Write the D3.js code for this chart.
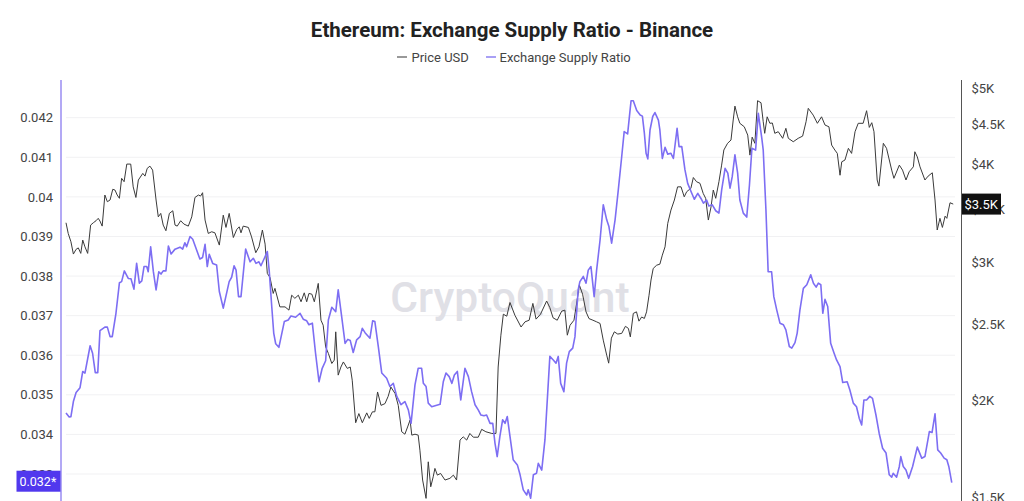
<!DOCTYPE html>
<html><head><meta charset="utf-8">
<script src="https://cdn.jsdelivr.net/npm/d3@7"></script>
<style>
body{margin:0;background:#fff;}
svg{display:block;font-family:Roboto,"Noto Sans",sans-serif;}
</style>
</head><body>
<svg id="chart" width="1024" height="501"></svg>
<script>
const title = "Ethereum: Exchange Supply Ratio - Binance";
const legendLabels = ["Price USD", "Exchange Supply Ratio"];
const ratioTicks = [0.033,0.034,0.035,0.036,0.037,0.038,0.039,0.040,0.041,0.042];
const ratioTickLabels = ["0.033","0.034","0.035","0.036","0.037","0.038","0.039","0.04","0.041","0.042"];
const priceTicks = [1500,2000,2500,3000,3500,4000,4500,5000];
const priceTickLabels = ["$1.5K","$2K","$2.5K","$3K","$3.5K","$4K","$4.5K","$5K"];
const lastRatioLabel = "0.032*";
const lastPriceLabel = "$3.5K";

// days since start of window
const ratioDays = [0,1.3,2.0,3.0,4.1,5.7,6.8,7.7,9.8,10.8,11.9,12.9,13.8,15.8,16.8,17.9,18.8,20.3,21.7,22.6,23.7,25.3,26.4,27.6,28.7,29.8,30.8,31.7,32.8,33.4,34.4,35.5,36.6,37.7,38.6,39.5,40.6,41.6,42.7,44.3,46.3,47.4,48.3,49.0,50.4,51.5,54.4,55.5,56.5,57.4,58.2,59.6,61.2,62.3,63.9,66.3,67.3,68.3,69.1,70.1,71.1,73.0,74.8,76.1,77.2,78.4,79.2,80.6,81.8,82.6,83.6,84.4,85.2,86.5,88.7,90.3,91.4,93.3,95.1,96.4,97.8,98.7,100.1,101.4,102.8,104.1,105.5,106.6,108.0,109.6,110.6,112.0,113.4,114.5,115.5,116.7,118.1,119.5,120.4,121.5,123.5,124.6,125.5,126.9,128.3,130.3,131.6,133.0,134.4,136.1,137.7,139.1,140.2,141.8,143.1,144.5,145.2,146.3,147.2,148.6,152.0,153.3,154.4,155.7,156.8,157.8,159.0,160.4,162.1,163.5,164.8,166.2,167.5,168.6,169.8,170.9,172.3,173.4,174.3,175.2,176.3,177.4,178.4,179.3,180.4,181.7,183.4,184.5,185.8,187.2,187.8,188.8,189.9,191.2,191.9,193.3,194.6,196.6,198.0,199.1,200.0,201.0,202.3,203.4,204.5,205.9,206.8,208.1,208.8,210.2,211.3,212.2,213.3,214.6,215.6,217.0,218.3,219.7,220.6,221.7,223.1,224.4,225.8,226.8,228.2,229.6,230.5,231.9,233.3,234.2,235.0,235.7,236.4,237.3,238.4,239.3,240.7,241.3,242.3,243.4,244.5,245.8,246.8,248.3,249.1,250.2,251.5,252.6,254.0,255.3,256.7,258.0,259.0,260.3,261.2,262.6,264.0,265.3,266.4,267.8,268.9,269.8,270.7,271.8,272.9,273.8,275.2,276.6,277.7,278.7,280.2,281.3,282.7,283.3,284.4,285.3,286.7,287.6,288.8,290.1,291.5,292.5,293.9,294.9,296.2,297.1,298.2,299.6,301.0,302.6,303.7,304.8,305.7,306.7,307.5,308.4,309.5,310.7,312.1,313.1,314.5,315.6,317.4,318.5,319.9,321.2,322.3,323.3,324.2,325.3,326.6,327.7,329.1,330.4,331.8,333.2,334.5,335.5,336.1,337.5,338.6,339.2,340.2,341.3,342.4,344.0,345.9,347.7,349.0,350.8,351.9,353.1,354.2,355.4,356.8,357.9,358.7,359.9];
const ratioValues = [0.03454,0.03444,0.03445,0.03483,0.03506,0.03518,0.03559,0.03555,0.03624,0.03605,0.03556,0.03556,0.03662,0.03671,0.03671,0.03647,0.03647,0.03706,0.03783,0.03786,0.03813,0.03794,0.03793,0.03767,0.03832,0.03782,0.03788,0.03824,0.03824,0.03811,0.03874,0.03811,0.03765,0.03811,0.03805,0.03813,0.03813,0.03876,0.03856,0.03868,0.03873,0.03868,0.03884,0.03874,0.03900,0.03893,0.03843,0.03847,0.03880,0.03824,0.03855,0.03832,0.03828,0.03761,0.03719,0.03786,0.03797,0.03826,0.03815,0.03748,0.03748,0.03868,0.03836,0.03845,0.03832,0.03836,0.03826,0.03845,0.03862,0.03811,0.03723,0.03656,0.03629,0.03620,0.03685,0.03689,0.03699,0.03696,0.03706,0.03691,0.03687,0.03677,0.03681,0.03605,0.03533,0.03567,0.03586,0.03689,0.03721,0.03710,0.03765,0.03698,0.03630,0.03640,0.03637,0.03607,0.03639,0.03647,0.03668,0.03657,0.03643,0.03687,0.03685,0.03622,0.03555,0.03542,0.03521,0.03529,0.03496,0.03475,0.03483,0.03462,0.03428,0.03525,0.03567,0.03567,0.03529,0.03521,0.03479,0.03470,0.03476,0.03533,0.03555,0.03546,0.03529,0.03550,0.03559,0.03487,0.03567,0.03546,0.03508,0.03475,0.03462,0.03449,0.03447,0.03449,0.03428,0.03428,0.03378,0.03344,0.03395,0.03437,0.03428,0.03445,0.03395,0.03336,0.03323,0.03298,0.03260,0.03247,0.03260,0.03239,0.03298,0.03302,0.03327,0.03310,0.03386,0.03597,0.03588,0.03580,0.03597,0.03529,0.03508,0.03580,0.03609,0.03618,0.03647,0.03765,0.03786,0.03799,0.03782,0.03815,0.03824,0.03748,0.03815,0.03891,0.03980,0.03942,0.03925,0.03883,0.03942,0.04017,0.04102,0.04165,0.04159,0.04243,0.04243,0.04218,0.04207,0.04204,0.04161,0.04110,0.04096,0.04169,0.04203,0.04213,0.04194,0.04169,0.04097,0.04125,0.04108,0.04110,0.04097,0.04173,0.04127,0.04127,0.04068,0.04034,0.04013,0.03994,0.04009,0.03996,0.03984,0.03992,0.03977,0.03980,0.03965,0.03959,0.04017,0.04072,0.04060,0.04022,0.04051,0.04106,0.04060,0.03992,0.03959,0.03949,0.04030,0.04123,0.04118,0.04211,0.04149,0.04118,0.03967,0.03811,0.03811,0.03748,0.03714,0.03681,0.03677,0.03664,0.03622,0.03618,0.03632,0.03656,0.03714,0.03769,0.03778,0.03803,0.03782,0.03772,0.03782,0.03778,0.03706,0.03741,0.03723,0.03630,0.03605,0.03588,0.03571,0.03531,0.03533,0.03512,0.03479,0.03470,0.03441,0.03424,0.03487,0.03487,0.03496,0.03491,0.03449,0.03403,0.03365,0.03353,0.03298,0.03292,0.03302,0.03292,0.03319,0.03344,0.03319,0.03310,0.03289,0.03319,0.03368,0.03340,0.03344,0.03407,0.03405,0.03452,0.03361,0.03353,0.03340,0.03336,0.03319,0.03278];

const priceDays = [0,0.9,2.0,3.0,4.1,5.0,6.0,6.8,7.7,8.8,10.0,11.1,12.2,13.1,13.8,14.7,15.8,16.8,17.9,19.0,19.9,20.8,21.7,22.6,23.6,24.7,26.3,27.3,28.4,29.4,31.2,32.1,33.0,34.1,35.2,36.6,37.5,38.5,39.5,40.6,42.0,43.4,44.3,45.2,46.6,47.9,49.7,51.1,52.4,53.8,54.7,55.5,56.5,57.8,59.2,60.5,62.3,63.9,65.0,66.3,68.0,69.4,70.4,71.1,72.0,74.1,75.4,77.1,78.4,79.8,80.9,81.8,82.9,84.2,84.9,86.9,89.0,90.6,91.7,93.0,94.4,95.5,96.8,97.8,98.7,99.9,100.9,102.5,103.6,104.5,105.5,106.6,108.0,109.0,109.6,110.6,111.7,112.7,114.3,115.5,116.3,117.7,119.0,120.4,122.2,123.2,124.5,125.5,126.6,128.0,129.6,130.9,132.0,133.7,135.0,136.4,137.7,138.8,139.8,140.5,141.8,143.1,143.8,144.9,146.3,147.2,148.2,149.2,149.9,150.9,152.2,154.0,156.0,157.4,158.7,160.1,161.4,162.8,164.1,165.5,167.5,168.9,170.6,173.0,174.7,175.6,176.7,177.7,179.1,180.4,182.4,184.9,186.5,188.2,189.7,191.0,192.8,195.3,196.6,197.9,199.6,201.4,202.7,203.7,204.8,206.4,207.5,208.6,209.9,211.3,212.5,214.1,215.6,217.0,218.3,219.7,220.5,221.6,222.8,224.2,225.8,227.3,228.5,229.3,230.5,231.8,232.8,233.9,235.0,235.9,236.9,237.7,238.6,240.0,241.3,242.3,243.4,244.5,245.8,247.2,248.5,249.9,251.2,252.2,253.9,254.9,256.2,257.6,258.9,259.9,261.0,262.1,263.0,264.0,265.3,266.4,267.3,268.8,270.2,271.1,271.8,272.9,273.8,275.6,277.0,277.9,278.8,279.9,281.0,282.4,283.3,283.9,284.9,286.0,287.0,288.0,289.4,291.2,292.5,293.5,295.5,297.5,299.3,300.7,301.6,303.6,305.3,307.0,308.4,310.0,311.1,312.4,313.4,314.5,315.2,316.5,317.9,319.2,320.6,321.9,323.9,325.3,326.4,327.4,328.3,329.6,330.3,332.1,333.4,335.5,336.4,338.6,339.9,341.3,342.6,344.3,344.9,345.9,347.0,349.0,350.3,352.0,353.1,354.0,355.1,356.1,357.2,357.9,359.2,360.5];
const priceValues = [3367,3263,3184,3071,3114,3127,3077,3200,3137,3077,3344,3367,3387,3411,3384,3334,3653,3582,3600,3715,3707,3653,3618,3837,3799,4001,4001,3742,3627,3818,3893,3862,3951,3977,3931,3600,3426,3461,3344,3289,3461,3488,3344,3334,3387,3354,3334,3426,3627,3653,3642,3678,3394,3263,3279,3269,3153,3443,3321,3461,3224,3302,3327,3269,3334,3321,3230,3083,3137,3296,3162,2901,2866,2735,2776,2629,2629,2604,2721,2696,2721,2669,2740,2669,2735,2729,2669,2817,2528,2491,2337,2293,2226,2248,2443,2151,2203,2236,2194,2203,2119,1870,1921,1870,1925,1894,1931,1931,2047,1968,1978,2021,2077,2038,1968,1821,1808,1847,1885,1803,1808,1803,1725,1580,1497,1667,1549,1595,1635,1603,1611,1580,1588,1603,1580,1777,1794,1777,1812,1792,1792,1834,1821,1812,1812,2203,2419,2573,2558,2663,2565,2478,2516,2528,2656,2536,2573,2675,2623,2546,2528,2596,2604,2419,2491,2528,2659,2803,2729,2591,2540,2528,2516,2504,2384,2281,2228,2398,2443,2427,2432,2483,2468,2407,2579,2591,2521,2552,2541,2591,2721,2845,2944,2972,2981,3061,3137,3361,3495,3600,3742,3742,3634,3689,3726,3846,3799,3781,3671,3618,3394,3529,3707,3618,3799,3989,4170,4253,4294,4555,4745,4598,4511,4465,4357,4108,4331,4253,4821,4792,4532,4380,4598,4511,4515,4380,4401,4316,4445,4316,4273,4316,4344,4532,4714,4621,4511,4598,4488,4465,4231,4170,4129,3872,4028,4049,4191,4129,4401,4511,4511,4681,4457,4519,4401,3818,3750,4253,4191,3931,3837,3989,3931,3818,3912,3969,4149,4087,3969,3818,3862,3900,3600,3296,3411,3321,3433,3411,3571,3557];

const W = 1024, H = 501;
const plot = {left: 61, right: 961.5, top: 80, bottom: 501};
const svg = d3.select("#chart");

const x = d3.scaleLinear().domain([0, 360]).range([66, 952]);
const yR = d3.scaleLinear().domain([0.033, 0.042]).range([474, 117.7]);
const yP = d3.scaleLog().domain([1500, 5000]).range([497.7, 88.3]);

// title
svg.append("text").attr("x", 512).attr("y", 37).attr("text-anchor", "middle")
  .attr("font-size", 20.5).attr("font-weight", 700).attr("fill", "#222").text(title);

// legend
const legend = svg.append("g").attr("font-size", 13).attr("fill", "#444");
legend.append("line").attr("x1", 397).attr("x2", 407).attr("y1", 57).attr("y2", 57).attr("stroke", "#555").attr("stroke-width", 1.2);
legend.append("text").attr("x", 411.5).attr("y", 61.5).text(legendLabels[0]);
legend.append("line").attr("x1", 486).attr("x2", 496).attr("y1", 57).attr("y2", 57).attr("stroke", "#8c80f2").attr("stroke-width", 1.5);
legend.append("text").attr("x", 499.5).attr("y", 61.5).text(legendLabels[1]);

// gridlines
svg.append("g").selectAll("line").data(ratioTicks).join("line")
  .attr("x1", 66).attr("x2", 955)
  .attr("y1", d => yR(d)).attr("y2", d => yR(d))
  .attr("stroke", "#f1f1f3").attr("stroke-width", 1);

// watermark
svg.append("text").attr("x", 510).attr("y", 312).attr("text-anchor", "middle")
  .attr("font-size", 42.5).attr("font-weight", 500).attr("fill", "#e0e0e6")
  .text("CryptoQuant");

// clip
svg.append("clipPath").attr("id", "clip").append("rect")
  .attr("x", plot.left).attr("y", plot.top).attr("width", plot.right - plot.left).attr("height", plot.bottom - plot.top + 20);

const priceData = priceDays.map((d, i) => [d, priceValues[i]]);
const ratioData = ratioDays.map((d, i) => [d, ratioValues[i]]);

svg.append("path").datum(priceData).attr("clip-path", "url(#clip)")
  .attr("fill", "none").attr("stroke", "#3a3a3a").attr("stroke-width", 1).attr("stroke-linejoin", "round")
  .attr("d", d3.line().x(d => x(d[0])).y(d => yP(d[1])));

svg.append("path").datum(ratioData).attr("clip-path", "url(#clip)")
  .attr("fill", "none").attr("stroke", "#7d6ef3").attr("stroke-width", 1.6).attr("stroke-linejoin", "round")
  .attr("d", d3.line().x(d => x(d[0])).y(d => yR(d[1])));

// left axis
const leftAxis = svg.append("g").attr("transform", `translate(${plot.left},0)`)
  .call(d3.axisLeft(yR).tickValues(ratioTicks).tickFormat((d, i) => ratioTickLabels[i]).tickSize(0).tickPadding(8));
leftAxis.select(".domain").remove();
leftAxis.selectAll("text").attr("font-size", 13).attr("fill", "#444").attr("font-family", "Roboto,'Noto Sans',sans-serif");
svg.append("line").attr("x1", plot.left).attr("x2", plot.left).attr("y1", plot.top).attr("y2", H)
  .attr("stroke", "#9a8df2").attr("stroke-width", 1.5);

// right axis
const rightAxis = svg.append("g").attr("transform", `translate(${plot.right},0)`)
  .call(d3.axisRight(yP).tickValues(priceTicks).tickFormat((d, i) => priceTickLabels[i]).tickSize(0).tickPadding(10));
rightAxis.select(".domain").remove();
rightAxis.selectAll("text").attr("font-size", 13).attr("fill", "#444").attr("font-family", "Roboto,'Noto Sans',sans-serif");
svg.append("line").attr("x1", plot.right).attr("x2", plot.right).attr("y1", plot.top).attr("y2", H)
  .attr("stroke", "#555").attr("stroke-width", 1);

// last value labels
const lastP = priceValues[priceValues.length - 1];
const pY = yP(lastP);
svg.append("rect").attr("x", 962).attr("y", pY - 10.5).attr("width", 39).attr("height", 21).attr("fill", "#111");
svg.append("text").attr("x", 964.5).attr("y", pY + 4.5).attr("font-size", 13).attr("fill", "#fff").text(lastPriceLabel);

const lastR = ratioValues[ratioValues.length - 1];
const rY = yR(lastR) - 1.5;
svg.append("rect").attr("x", 16.5).attr("y", rY - 10.5).attr("width", 44).attr("height", 21).attr("fill", "#5138ee");
svg.append("text").attr("x", 19.5).attr("y", rY + 4.5).attr("font-size", 12.5).attr("fill", "#fff").text(lastRatioLabel);
</script>
</body></html>
